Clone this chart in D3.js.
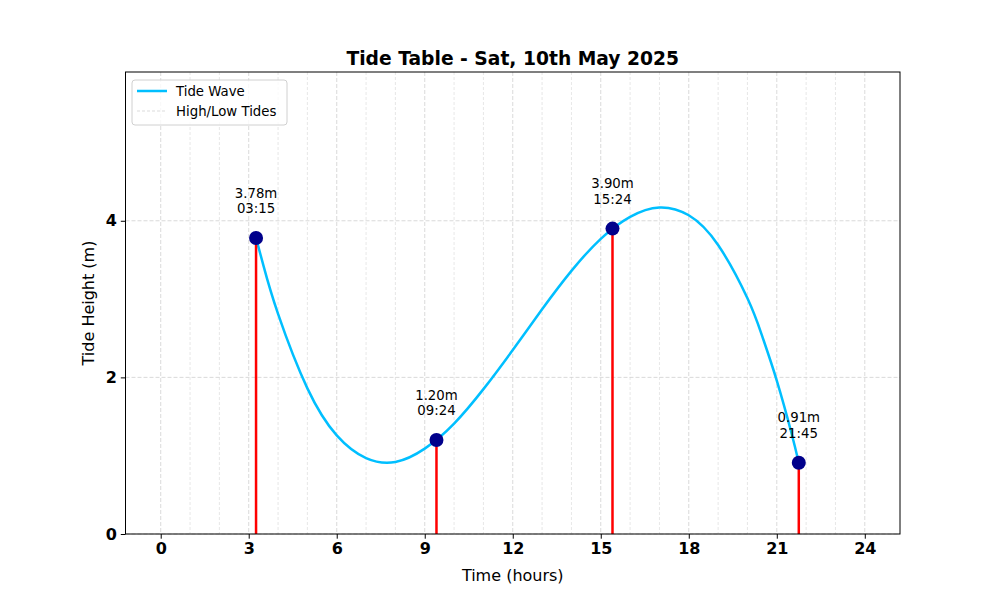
<!DOCTYPE html>
<html>
<head>
<meta charset="utf-8">
<script src="https://cdn.jsdelivr.net/npm/d3@7"></script>
<style>
	body { margin: 0; background: #fff; }
	svg { font-family: "DejaVu Sans", sans-serif; }
</style>
</head>
<body>
<div id="chart"></div>
<script>
// High / low tide events
let tideTimes = ["03:15", "09:24", "15:24", "21:45"];
let tideHours = [3.25, 9.4, 15.4, 21.75];
let tideHeights = [3.78, 1.20, 3.90, 0.91];

let waveHours = [3.25, 3.5, 4, 5, 6, 7, 8, 9, 10, 11, 12, 13, 14, 15, 16, 17,
	18, 19, 20, 20.5, 21, 21.5, 21.75];
let waveHeights = [3.78, 3.43, 2.81, 1.86, 1.26, 0.97, 0.92, 1.09, 1.41, 1.85, 2.35, 2.87,
	3.36, 3.77, 4.05, 4.17, 4.07, 3.69, 3.01, 2.53, 1.96, 1.29, 0.91];

// Axis ticks
let xTicks = [0, 3, 6, 9, 12, 15, 18, 21, 24];
let xMinor = d3.range(0, 25);
let yTicks = [0, 2, 4];

let margin = { top: 72, right: 100, bottom: 66, left: 125.5 };
let width = 1000 - margin.left - margin.right,
	height = 600 - margin.top - margin.bottom;

let svg = d3.select("#chart").append("svg")
	.attr("width", 1000)
	.attr("height", 600);

let g = svg.append("g")
	.attr("transform", "translate(" + margin.left + "," + margin.top + ")");

let x = d3.scaleLinear().domain([-1.2, 25.2]).range([0, width]);
let y = d3.scaleLinear().domain([0, 5.9]).range([height, 0]);

// Grid lines (minor every hour, major on ticks)
g.selectAll(".minor-grid")
	.data(xMinor.filter(d => xTicks.indexOf(d) < 0))
	.enter().append("line")
	.attr("x1", d => x(d)).attr("x2", d => x(d))
	.attr("y1", 0).attr("y2", height)
	.attr("stroke", "#dcdcdc")
	.attr("stroke-width", 0.7)
	.attr("stroke-dasharray", "3,2");

g.selectAll(".major-grid-x")
	.data(xTicks)
	.enter().append("line")
	.attr("x1", d => x(d)).attr("x2", d => x(d))
	.attr("y1", 0).attr("y2", height)
	.attr("stroke", "#d0d0d0")
	.attr("stroke-width", 0.8)
	.attr("stroke-dasharray", "4,2");

g.selectAll(".major-grid-y")
	.data(yTicks)
	.enter().append("line")
	.attr("x1", 0).attr("x2", width)
	.attr("y1", d => y(d)).attr("y2", d => y(d))
	.attr("stroke", "#d0d0d0")
	.attr("stroke-width", 0.8)
	.attr("stroke-dasharray", "4,2");

// Tide wave
let line = d3.line()
	.x((d, i) => x(waveHours[i]))
	.y(d => y(d))
	.curve(d3.curveNatural);

g.append("path")
	.datum(waveHeights)
	.attr("fill", "none")
	.attr("stroke", "#00bfff")
	.attr("stroke-width", 2.5)
	.attr("d", line);

// Vertical lines for high/low tides
g.selectAll(".tide-line")
	.data(tideHeights)
	.enter().append("line")
	.attr("x1", (d, i) => x(tideHours[i]))
	.attr("x2", (d, i) => x(tideHours[i]))
	.attr("y1", y(0))
	.attr("y2", d => y(d))
	.attr("stroke", "red")
	.attr("stroke-width", 2.5);

// Tide points
g.selectAll(".tide-dot")
	.data(tideHeights)
	.enter().append("circle")
	.attr("cx", (d, i) => x(tideHours[i]))
	.attr("cy", d => y(d))
	.attr("r", 7)
	.attr("fill", "#00008b");

// Labels above each point
let labels = g.selectAll(".tide-label")
	.data(tideHeights)
	.enter().append("text")
	.attr("text-anchor", "middle")
	.style("font-size", "13.3px")
	.attr("fill", "#000");

labels.append("tspan")
	.attr("x", (d, i) => x(tideHours[i]))
	.attr("y", d => y(d) - 45)
	.attr("dy", "0.35em")
	.text(d => d.toFixed(2) + "m");

labels.append("tspan")
	.attr("x", (d, i) => x(tideHours[i]))
	.attr("y", d => y(d) - 29.3)
	.attr("dy", "0.35em")
	.text((d, i) => tideTimes[i]);

// Axes
let xAxis = d3.axisBottom(x).tickValues(xTicks).tickSize(4.7).tickPadding(4);
let yAxis = d3.axisLeft(y).tickValues(yTicks).tickFormat(d3.format("d")).tickSize(4.7).tickPadding(4);

let gx = g.append("g")
	.attr("transform", "translate(0," + height + ")")
	.call(xAxis);
let gy = g.append("g").call(yAxis);

[gx, gy].forEach(a => {
	a.select(".domain").remove();
	a.selectAll("line").attr("stroke", "#000").attr("stroke-width", 1);
	a.selectAll("text")
		.style("font-family", "DejaVu Sans")
		.style("font-size", "16px")
		.style("font-weight", "bold")
		.attr("fill", "#000");
});

// Frame
g.append("rect")
	.attr("width", width)
	.attr("height", height)
	.attr("fill", "none")
	.attr("stroke", "#000")
	.attr("stroke-width", 1);

// Titles
svg.append("text")
	.attr("x", margin.left + width / 2)
	.attr("y", 58)
	.attr("dy", "0.35em")
	.attr("text-anchor", "middle")
	.style("font-size", "18.7px")
	.style("font-weight", "bold")
	.text("Tide Table - Sat, 10th May 2025");

svg.append("text")
	.attr("x", margin.left + width / 2)
	.attr("y", 575)
	.attr("dy", "0.35em")
	.attr("text-anchor", "middle")
	.style("font-size", "16px")
	.text("Time (hours)");

svg.append("text")
	.attr("transform", "translate(88," + (margin.top + height / 2) + ") rotate(-90)")
	.attr("dy", "0.35em")
	.attr("text-anchor", "middle")
	.style("font-size", "16px")
	.text("Tide Height (m)");

// Legend
let legend = svg.append("g").attr("transform", "translate(132,80)");
legend.append("rect")
	.attr("width", 155)
	.attr("height", 45)
	.attr("rx", 3)
	.attr("fill", "#fff")
	.attr("fill-opacity", 0.8)
	.attr("stroke", "#d0d0d0");

let legendItems = ["Tide Wave", "High/Low Tides"];
legendItems.forEach((name, i) => {
	let ly = 11 + i * 20;
	legend.append("line")
		.attr("x1", 5).attr("x2", 35)
		.attr("y1", ly).attr("y2", ly)
		.attr("stroke", i === 0 ? "#00bfff" : "#cccccc")
		.attr("stroke-width", i === 0 ? 2.5 : 0.7)
		.attr("stroke-dasharray", i === 0 ? null : "3,2");
	legend.append("text")
		.attr("x", 44)
		.attr("y", ly)
		.attr("dy", "0.35em")
		.style("font-size", "13.3px")
		.text(name);
});
</script>
</body>
</html>
